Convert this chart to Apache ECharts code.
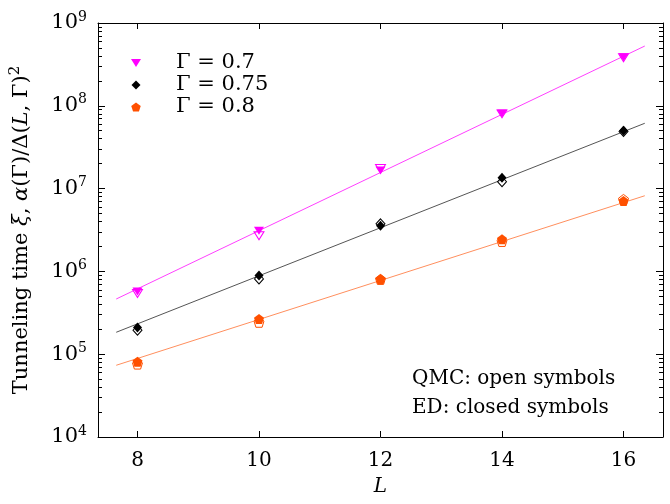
<!DOCTYPE html>
<html>
<head>
<meta charset="utf-8">
<script src="https://cdn.jsdelivr.net/npm/echarts@6/dist/echarts.min.js"></script>
<style>html,body{margin:0;padding:0;background:#fff}#c{width:670px;height:504px}</style>
</head>
<body>
<div id="c"></div>
<script>
// ---- data ----
const L = [8, 10, 12, 14, 16];
const g07_ED  = [5.7e5, 3.1e6, 1.65e7, 8.1e7, 3.85e8];
const g07_QMC = [5.4e5, 2.7e6, 1.75e7, 8.0e7, 3.8e8];
const g075_ED  = [2.1e5, 8.9e5, 3.55e6, 1.35e7, 5.0e7];
const g075_QMC = [1.95e5, 8.1e5, 3.75e6, 1.21e7, 4.9e7];
const g08_ED  = [8.1e4, 2.66e5, 8.1e5, 2.44e6, 7.1e6];
const g08_QMC = [7.6e4, 2.43e5, 8.0e5, 2.3e6, 7.4e6];
const fitL = [7.65, 16.35];
const fit07 = [4.64e5, 5.27e8];
const fit075 = [1.84e5, 6.15e7];
const fit08 = [7.35e4, 8.2e6];
const xTicks = [8, 10, 12, 14, 16];
const legendNames = ['Γ = 0.7', 'Γ = 0.75', 'Γ = 0.8'];

const FONT = 'DejaVu Serif';
const C07 = '#ff00ff', C07L = '#ff40ff';
const C075 = '#000000', C075L = '#555555';
const C08 = '#ff5000', C08L = '#ff8f5e';
const TRI = 'path://M0,0 L10,0 L5,8 Z';
const DIA = 'path://M5,0 L10,5 L5,10 L0,5 Z';
const PENT = 'path://M5,0 L10,3.6 L8.1,9.5 L1.9,9.5 L0,3.6 Z';

const minorY = [];
for (let e = 4; e < 9; e++) for (let k = 2; k <= 9; k++) minorY.push(k * Math.pow(10, e));

const pairs = (xs, ys) => xs.map((x, i) => [x, ys[i]]);

function fitSeries(ys, color) {
  return { type: 'line', data: pairs(fitL, ys), showSymbol: false, silent: true,
    lineStyle: { color: color, width: 1 }, z: 1 };
}
function openSeries(name, ys, symbol, size, color) {
  return { type: 'scatter', name: name, data: pairs(L, ys), symbol: symbol, symbolSize: size,
    itemStyle: { color: 'rgba(255,255,255,0)', borderColor: color, borderWidth: 1, opacity: 1 }, z: 2 };
}
function closedSeries(name, ys, symbol, size, color) {
  return { type: 'scatter', name: name, data: pairs(L, ys), symbol: symbol, symbolSize: size,
    itemStyle: { color: color, opacity: 1 }, z: 3 };
}

const axisLineStyle = { color: '#000', width: 1 };
const yLabelFmt = v => '{b|10}{s|' + Math.round(Math.log10(v)) + '}';

const option = {
  animation: false,
  backgroundColor: '#fff',
  grid: { left: 96, right: 7, top: 23, bottom: 67 },
  legend: {
    data: legendNames, orient: 'vertical', left: 126, top: 47,
    itemWidth: 10, itemHeight: 9, itemGap: 0,
    formatter: '{g|}{t|{name}}',
    textStyle: { fontFamily: FONT, fontSize: 21, color: '#000', lineHeight: 22,
      rich: { g: { width: 30 }, t: { fontFamily: FONT, fontSize: 21, color: '#000' } } }
  },
  xAxis: [
    { type: 'value', min: 7.35, max: 16.65, position: 'bottom',
      name: 'L', nameLocation: 'middle', nameGap: 40,
      nameTextStyle: { fontFamily: FONT, fontSize: 20, fontStyle: 'italic', color: '#000' },
      axisLine: { show: true, lineStyle: axisLineStyle },
      axisTick: { show: true, inside: true, length: 6, customValues: xTicks, lineStyle: axisLineStyle },
      axisLabel: { customValues: xTicks, margin: 14, fontFamily: FONT, fontSize: 20, color: '#000' },
      splitLine: { show: false } },
    { type: 'value', min: 7.35, max: 16.65, position: 'top',
      axisLine: { show: true, lineStyle: axisLineStyle },
      axisTick: { show: true, inside: true, length: 6, customValues: xTicks, lineStyle: axisLineStyle },
      axisLabel: { show: false }, splitLine: { show: false } }
  ],
  yAxis: [
    { type: 'log', logBase: 10, min: 1e4, max: 1e9, position: 'left',
      name: '{n|Tunneling time }{i|ξ}{n|, }{i|α}{n|(Γ)/Δ(}{i|L}{n|, Γ)}{s|2}',
      nameLocation: 'middle', nameGap: 63,
      nameTextStyle: { fontFamily: FONT, fontSize: 21, color: '#000',
        rich: { n: { fontFamily: FONT, fontSize: 21, color: '#000' },
                i: { fontFamily: FONT, fontSize: 21, fontStyle: 'italic', color: '#000' },
                s: { fontFamily: FONT, fontSize: 15, color: '#000', padding: [0, 0, 12, 0] } } },
      axisLine: { show: true, lineStyle: axisLineStyle },
      axisTick: { show: true, inside: true, length: 7, lineStyle: axisLineStyle },
      axisLabel: { formatter: yLabelFmt, margin: 11, color: '#000',
        rich: { b: { fontFamily: FONT, fontSize: 21, color: '#000' },
                s: { fontFamily: FONT, fontSize: 14, color: '#000', padding: [0, 0, 12, 0] } } },
      splitLine: { show: false } },
    { type: 'log', logBase: 10, min: 1e4, max: 1e9, position: 'left',
      axisLine: { show: false },
      axisTick: { show: true, inside: true, length: 4, customValues: minorY, lineStyle: axisLineStyle },
      axisLabel: { show: false }, splitLine: { show: false } },
    { type: 'log', logBase: 10, min: 1e4, max: 1e9, position: 'right',
      axisLine: { show: true, lineStyle: axisLineStyle },
      axisTick: { show: true, inside: true, length: 7, lineStyle: axisLineStyle },
      axisLabel: { show: false }, splitLine: { show: false } },
    { type: 'log', logBase: 10, min: 1e4, max: 1e9, position: 'right',
      axisLine: { show: false },
      axisTick: { show: true, inside: true, length: 4, customValues: minorY, lineStyle: axisLineStyle },
      axisLabel: { show: false }, splitLine: { show: false } }
  ],
  graphic: [
    { type: 'text', left: 412, top: 369, style: { text: 'QMC: open symbols', font: '20px "DejaVu Serif"', fill: '#000' } },
    { type: 'text', left: 412, top: 398, style: { text: 'ED: closed symbols', font: '20px "DejaVu Serif"', fill: '#000' } }
  ],
  series: [
    fitSeries(fit07, C07L), fitSeries(fit075, C075L), fitSeries(fit08, C08L),
    openSeries('QMC Γ = 0.7', g07_QMC, TRI, [10, 8], C07),
    openSeries('QMC Γ = 0.75', g075_QMC, DIA, [9, 10], C075),
    openSeries('QMC Γ = 0.8', g08_QMC, PENT, [10, 10], C08),
    closedSeries(legendNames[0], g07_ED, TRI, [10, 8], C07),
    closedSeries(legendNames[1], g075_ED, DIA, [9, 10], C075),
    closedSeries(legendNames[2], g08_ED, PENT, [10, 10], C08)
  ]
};
echarts.init(document.getElementById('c')).setOption(option);
</script>
</body>
</html>
